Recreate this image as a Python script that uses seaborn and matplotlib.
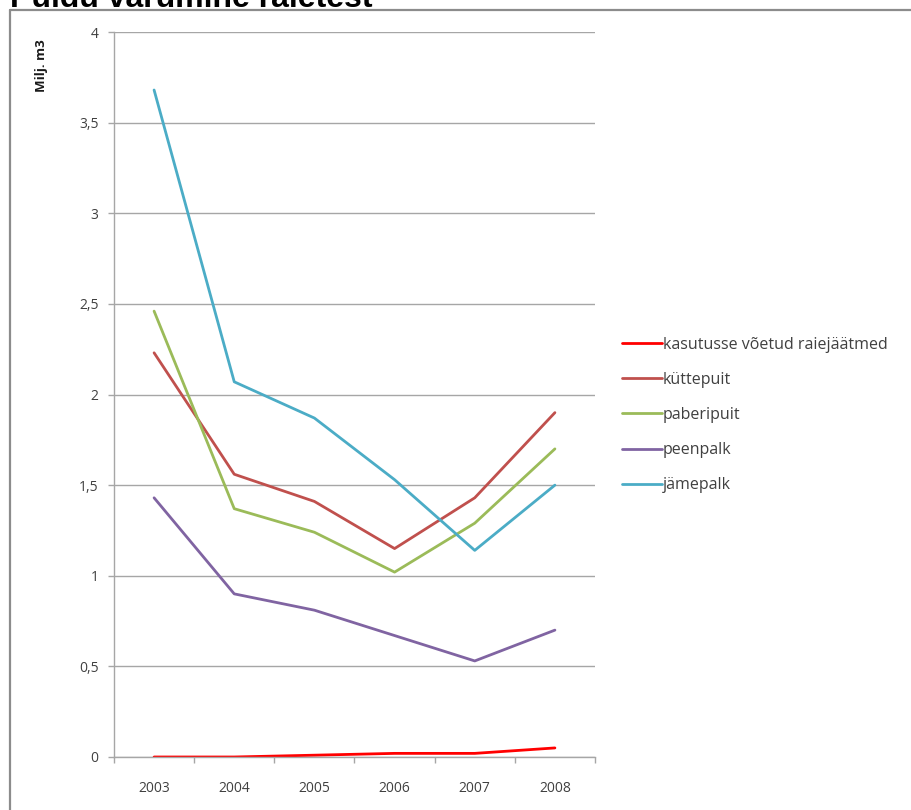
import matplotlib.pyplot as plt
import matplotlib.ticker as mticker
from matplotlib.lines import Line2D
import pandas as pd
import seaborn as sns

years = [2003, 2004, 2005, 2006, 2007, 2008]
series_names = ["kasutusse võetud raiejäätmed", "küttepuit", "paberipuit", "peenpalk", "jämepalk"]
raiejaatmed = [0.0, 0.0, 0.01, 0.02, 0.02, 0.05]
kuttepuit = [2.23, 1.56, 1.41, 1.15, 1.43, 1.90]
paberipuit = [2.46, 1.37, 1.24, 1.02, 1.29, 1.70]
peenpalk = [1.43, 0.90, 0.81, 0.67, 0.53, 0.70]
jamepalk = [3.68, 2.07, 1.87, 1.53, 1.14, 1.50]
series_colors = ["#FF0000", "#C0504D", "#9BBB59", "#8064A2", "#4BACC6"]

TEXT_COLOR = "#404040"
GRID_COLOR = "#A6A6A6"


def build_frame():
    values = [raiejaatmed, kuttepuit, paberipuit, peenpalk, jamepalk]
    rows = []
    for name, vals in zip(series_names, values):
        for y, v in zip(years, vals):
            rows.append({"aasta": y, "maht": v, "sortiment": name})
    return pd.DataFrame(rows)


sns.set_theme(style="white")
plt.rcParams["font.family"] = ["Open Sans", "DejaVu Sans"]
plt.rcParams["figure.facecolor"] = "white"

df = build_frame()

fig = plt.figure(figsize=(9.12, 8.10), dpi=100)
ax = fig.add_axes([114 / 912, 1 - 757 / 810, (595 - 114) / 912, (757 - 32) / 810])

sns.lineplot(data=df, x="aasta", y="maht", hue="sortiment", hue_order=series_names,
             palette=series_colors, linewidth=2.0, ax=ax, legend=False)

ax.set_xlim(years[0] - 0.5, years[-1] + 0.5)
ax.set_ylim(0, 4)
ax.yaxis.set_major_locator(mticker.MultipleLocator(0.5))
ax.yaxis.set_major_formatter(mticker.FuncFormatter(lambda v, p: f"{v:g}".replace(".", ",")))
ax.set_xticks(years)
ax.set_xticklabels([str(y) for y in years])
ax.set_xticks([y - 0.5 for y in years] + [years[-1] + 0.5], minor=True)

ax.grid(axis="y", color=GRID_COLOR, linewidth=1.0)
ax.set_axisbelow(True)
for side in ["top", "right"]:
    ax.spines[side].set_visible(False)
ax.spines["left"].set_color(GRID_COLOR)
ax.spines["bottom"].set_color(GRID_COLOR)
ax.spines["left"].set_linewidth(1.0)
ax.spines["bottom"].set_linewidth(1.0)

ax.tick_params(axis="y", which="major", left=True, length=4, width=1, color=GRID_COLOR,
               pad=7, labelsize=10, labelcolor=TEXT_COLOR)
ax.tick_params(axis="x", which="major", bottom=False, length=0, pad=17,
               labelsize=10, labelcolor=TEXT_COLOR)
ax.tick_params(axis="x", which="minor", bottom=True, length=4, width=1, color=GRID_COLOR)

ax.set_xlabel("")
ax.set_ylabel("")
fig.text(42 / 912, 1 - 66 / 810, "Milj. m3", rotation=90, ha="center", va="center",
         fontsize=9.5, fontweight="bold", color="#1a1a1a")

handles = [Line2D([0], [0], color=c, linewidth=2.0) for c in series_colors]
fig.legend(handles, series_names, loc="center left", bbox_to_anchor=(622 / 912, 1 - 415 / 810),
           frameon=False, fontsize=11.5, handlelength=2.5, handletextpad=0.05,
           labelspacing=1.2, borderpad=0, borderaxespad=0, labelcolor=TEXT_COLOR)

# frame of the original slide and the clipped title above it
fig.add_artist(Line2D([10 / 912, 1], [1 - 10 / 810, 1 - 10 / 810], transform=fig.transFigure,
                      color="#8C8C8C", linewidth=1.6))
fig.add_artist(Line2D([10 / 912, 10 / 912], [1 - 10 / 810, 0], transform=fig.transFigure,
                      color="#8C8C8C", linewidth=1.6))
fig.text(10 / 912, 1 - 7 / 810, "Puidu varumine raietest", ha="left", va="baseline",
         fontsize=23, fontweight="bold", color="black", family=["Liberation Sans", "DejaVu Sans"])

plt.savefig("out.png", dpi=100)
plt.close()
